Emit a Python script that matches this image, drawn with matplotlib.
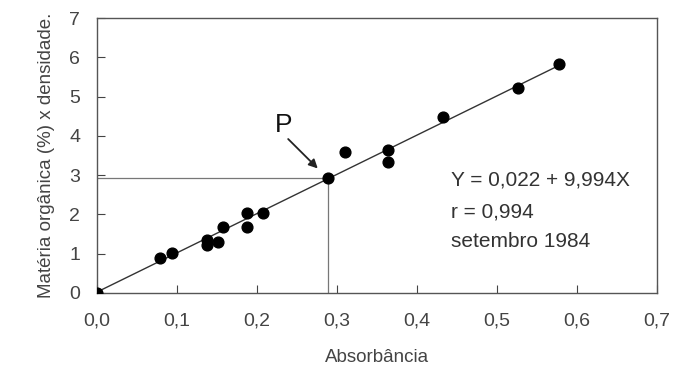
import matplotlib.pyplot as plt
import numpy as np

plt.rcParams['font.family'] = ['Liberation Sans', 'DejaVu Sans']

# Absorbância x Matéria orgânica (%) x densidade
absorbancia = [0.0, 0.079, 0.094, 0.137, 0.137, 0.151, 0.158, 0.187, 0.187, 0.208,
               0.289, 0.310, 0.364, 0.364, 0.432, 0.526, 0.578]
materia = [0.0, 0.89, 1.02, 1.35, 1.22, 1.30, 1.68, 2.03, 1.68, 2.03,
           2.93, 3.59, 3.64, 3.33, 4.48, 5.22, 5.83]

a, b = 0.022, 9.994
p_x, p_y = 0.289, 2.93
x_ticks = [0.0, 0.1, 0.2, 0.3, 0.4, 0.5, 0.6, 0.7]
x_labels = ['0,0', '0,1', '0,2', '0,3', '0,4', '0,5', '0,6', '0,7']
y_ticks = [0, 1, 2, 3, 4, 5, 6, 7]

fig = plt.figure(figsize=(6.78, 3.77), dpi=100)
ax = fig.add_axes([0.143, 0.223, 0.826, 0.729])

# reta de regressão
xl = np.array([0.0, max(absorbancia)])
ax.plot(xl, a + b * xl, color='#333333', lw=1.0, zorder=2)

# linhas de referência do ponto P
ax.plot([0, p_x], [p_y, p_y], color='#777777', lw=0.9, zorder=1)
ax.plot([p_x, p_x], [0, p_y], color='#777777', lw=0.9, zorder=1)

ax.scatter(absorbancia, materia, s=60, color='black', zorder=3)

ax.text(0.233, 4.27, 'P', fontsize=19, ha='center', va='center', color='#111111')
ax.annotate('', xy=(0.276, 3.17), xytext=(0.239, 3.92),
            arrowprops=dict(arrowstyle='-|>', color='#222222', lw=1.3,
                            mutation_scale=13, shrinkA=0, shrinkB=0))

ax.text(0.443, 2.88, 'Y = 0,022 + 9,994X', fontsize=15, va='center', color='#333333')
ax.text(0.443, 2.06, 'r = 0,994', fontsize=15, va='center', color='#333333')
ax.text(0.443, 1.32, 'setembro 1984', fontsize=15, va='center', color='#333333')

ax.set_xlim(0, 0.7)
ax.set_ylim(0, 7)
ax.set_xticks(x_ticks)
ax.set_xticklabels(x_labels)
ax.set_yticks(y_ticks)
ax.tick_params(direction='in', length=6, labelsize=14, colors='#444444')
ax.tick_params(axis='x', pad=14)
ax.tick_params(axis='y', pad=12)
for s in ax.spines.values():
    s.set_color('#555555')
    s.set_linewidth(1.0)

ax.set_xlabel('Absorbância', fontsize=13.5, color='#444444', labelpad=14)
ax.set_ylabel('Matéria orgânica (%) x densidade.', fontsize=13.5, color='#444444', labelpad=10)

fig.savefig('out.png', dpi=100)
